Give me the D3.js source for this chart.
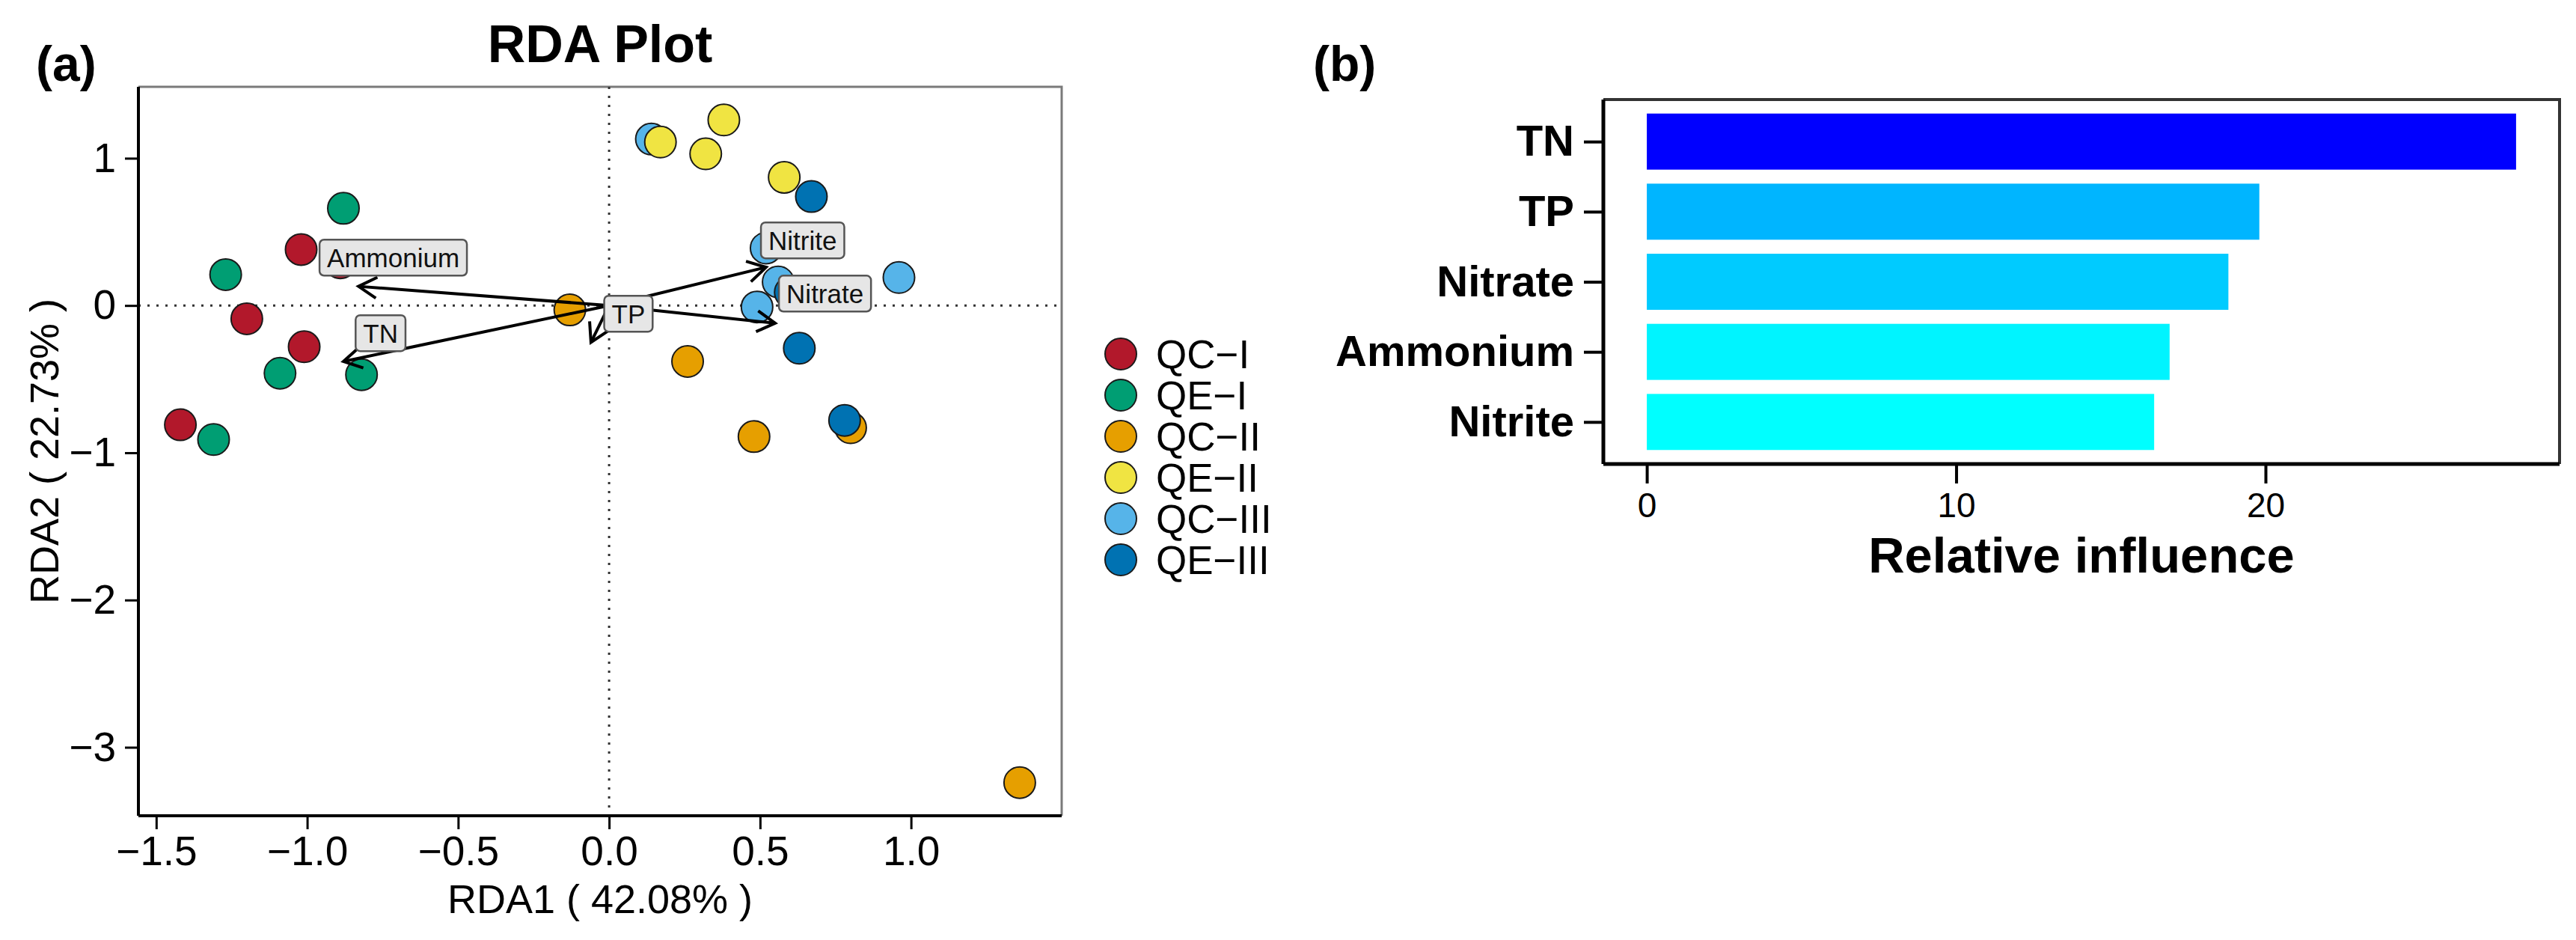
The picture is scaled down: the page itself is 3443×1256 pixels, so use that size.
<!DOCTYPE html>
<html>
<head>
<meta charset="utf-8">
<script src="https://d3js.org/d3.v7.min.js"></script>
<style>
  body { margin: 0; background: #fff; }
  svg text { font-family: "Liberation Sans", Arial, Helvetica, sans-serif; }
</style>
</head>
<body>
<svg id="chart"></svg>
<script>
// ---- data: RDA sample scores (drawing order: QC first, then QE) ----
const groups = ["QC−I", "QE−I", "QC−II", "QE−II", "QC−III", "QE−III"]
const groupColors = ["#B2182B", "#009E73", "#E69F00", "#F0E442", "#56B4E9", "#0072B2"]

const sampleGroup = [
  "QC−I", "QC−I", "QC−I", "QC−I", "QC−I",
  "QC−II", "QC−II", "QC−II", "QC−II", "QC−II",
  "QC−III", "QC−III", "QC−III", "QC−III", "QC−III",
  "QE−I", "QE−I", "QE−I", "QE−I", "QE−I",
  "QE−II", "QE−II", "QE−II", "QE−II", "QE−II",
  "QE−III", "QE−III", "QE−III", "QE−III"
]
const sampleRDA1 = [
  -1.02, -0.89, -1.20, -1.01, -1.42,
  -0.13, 0.26, 0.48, 0.80, 1.36,
  0.14, 0.52, 0.56, 0.49, 0.96,
  -0.88, -1.27, -1.09, -0.82, -1.31,
  0.17, 0.32, 0.38, 0.58, 0.67,
  0.67, 0.63, 0.78, 0.60
]
const sampleRDA2 = [
  0.38, 0.29, -0.09, -0.28, -0.81,
  -0.03, -0.38, -0.89, -0.83, -3.24,
  1.13, 0.39, 0.16, -0.01, 0.19,
  0.66, 0.21, -0.46, -0.47, -0.91,
  1.11, 1.03, 1.26, 0.87, 0.44,
  0.74, -0.29, -0.78, 0.09
]

// environmental arrows
const envVars = ["Ammonium", "TN", "TP", "Nitrite", "Nitrate"]
const arrowRDA1 = [-0.83, -0.88, -0.06, 0.52, 0.55]
const arrowRDA2 = [0.13, -0.38, -0.25, 0.26, -0.12]
const labelRDA1 = [-0.715, -0.757, 0.064, 0.641, 0.715]
const labelRDA2 = [0.325, -0.188, -0.056, 0.442, 0.081]

const rda1Ticks = [-1.5, -1.0, -0.5, 0.0, 0.5, 1.0]
const rda2Ticks = [-3, -2, -1, 0, 1]

// ---- data: relative influence ----
const influenceVars = ["TN", "TP", "Nitrate", "Ammonium", "Nitrite"]
const influence = [28.1, 19.8, 18.8, 16.9, 16.4]
const influenceTicks = [0, 10, 20]

// ---- setup ----
const W = 3443, H = 1256
const svg = d3.select("#chart").attr("width", W).attr("height", H)
svg.append("rect").attr("width", W).attr("height", H).attr("fill", "#fff")

function expand(min, max) {
  const p = (max - min) * 0.05
  return [min - p, max + p]
}

// ================= Panel (a) =================
const A = {left: 185, right: 1419, top: 116, bottom: 1090}
const x = d3.scaleLinear().domain(expand(d3.min(sampleRDA1), d3.max(sampleRDA1))).range([A.left, A.right])
const y = d3.scaleLinear().domain(expand(d3.min(sampleRDA2), d3.max(sampleRDA2))).range([A.bottom, A.top])
const color = d3.scaleOrdinal().domain(groups).range(groupColors)

const ga = svg.append("g")

// border (top/right grey)
ga.append("path")
  .attr("d", `M${A.left},${A.top}H${A.right}V${A.bottom}`)
  .attr("fill", "none").attr("stroke", "#7a7a7a").attr("stroke-width", 3)

// dotted zero lines
ga.append("line")
  .attr("x1", A.left).attr("x2", A.right).attr("y1", y(0)).attr("y2", y(0))
  .attr("stroke", "#333").attr("stroke-width", 3).attr("stroke-dasharray", "3,9")
ga.append("line")
  .attr("x1", x(0)).attr("x2", x(0)).attr("y1", A.top).attr("y2", A.bottom)
  .attr("stroke", "#333").attr("stroke-width", 3).attr("stroke-dasharray", "3,9")

// axes
const xAxisA = ga.append("g")
  .attr("transform", `translate(0,${A.bottom})`)
  .call(d3.axisBottom(x).tickValues(rda1Ticks).tickFormat(d3.format(".1f")).tickSize(18).tickPadding(9))
const yAxisA = ga.append("g")
  .attr("transform", `translate(${A.left},0)`)
  .call(d3.axisLeft(y).tickValues(rda2Ticks).tickFormat(d3.format("d")).tickSize(18).tickPadding(12))
;[xAxisA, yAxisA].forEach(ax => {
  ax.select(".domain").attr("stroke", "#000").attr("stroke-width", 4)
  ax.selectAll(".tick line").attr("stroke", "#000").attr("stroke-width", 3)
  ax.selectAll(".tick text").attr("fill", "#000").style("font-size", "55px")
})
// make domain lines span the full panel
xAxisA.select(".domain").attr("d", `M${A.left},0H${A.right}`)
yAxisA.select(".domain").attr("d", `M0,${A.top}V${A.bottom}`)

// points
ga.append("g").selectAll("circle")
  .data(sampleGroup.map((g, i) => ({g: g, a: sampleRDA1[i], b: sampleRDA2[i]})))
  .join("circle")
  .attr("cx", d => x(d.a))
  .attr("cy", d => y(d.b))
  .attr("r", 21)
  .attr("fill", d => color(d.g))
  .attr("stroke", "#1a1a1a")
  .attr("stroke-width", 2)

// arrows
const headLen = 28, headAng = Math.PI / 6
envVars.forEach((v, i) => {
  const x0 = x(0), y0 = y(0), x1 = x(arrowRDA1[i]), y1 = y(arrowRDA2[i])
  const ang = Math.atan2(y1 - y0, x1 - x0)
  ga.append("line")
    .attr("x1", x0).attr("y1", y0).attr("x2", x1).attr("y2", y1)
    .attr("stroke", "#000").attr("stroke-width", 4)
  const hx1 = x1 - headLen * Math.cos(ang - headAng), hy1 = y1 - headLen * Math.sin(ang - headAng)
  const hx2 = x1 - headLen * Math.cos(ang + headAng), hy2 = y1 - headLen * Math.sin(ang + headAng)
  ga.append("path")
    .attr("d", `M${hx1},${hy1}L${x1},${y1}L${hx2},${hy2}`)
    .attr("fill", "none").attr("stroke", "#000").attr("stroke-width", 4)
    .attr("stroke-linejoin", "miter")
})

// labels
envVars.forEach((v, i) => {
  const lg = ga.append("g").attr("transform", `translate(${x(labelRDA1[i])},${y(labelRDA2[i])})`)
  const rect = lg.append("rect")
  const t = lg.append("text")
    .attr("text-anchor", "middle").attr("dominant-baseline", "central")
    .style("font-size", "35px").attr("fill", "#111").text(v)
  const w = t.node().getComputedTextLength() + 20
  rect.attr("x", -w / 2).attr("y", -24).attr("width", w).attr("height", 48)
    .attr("rx", 6).attr("fill", "#e6e6e6").attr("stroke", "#555").attr("stroke-width", 2.5)
})

// titles
svg.append("text").attr("x", (A.left + A.right) / 2).attr("y", 83)
  .attr("text-anchor", "middle").style("font-size", "70px").style("font-weight", "bold").text("RDA Plot")
svg.append("text").attr("x", 48).attr("y", 108)
  .style("font-size", "66px").style("font-weight", "bold").text("(a)")
svg.append("text").attr("x", (A.left + A.right) / 2).attr("y", 1220)
  .attr("text-anchor", "middle").style("font-size", "54px").text("RDA1 ( 42.08% )")
svg.append("text")
  .attr("transform", `translate(78,${(A.top + A.bottom) / 2}) rotate(-90)`)
  .attr("text-anchor", "middle").style("font-size", "54px").text("RDA2 ( 22.73% )")

// legend
const leg = svg.append("g").attr("transform", "translate(1498,473)")
groups.forEach((g, i) => {
  leg.append("circle").attr("cx", 0).attr("cy", i * 55).attr("r", 21)
    .attr("fill", groupColors[i]).attr("stroke", "#1a1a1a").attr("stroke-width", 2)
  leg.append("text").attr("x", 47).attr("y", i * 55).attr("dominant-baseline", "central")
    .style("font-size", "53px").text(g)
})

// ================= Panel (b) =================
const B = {left: 2143, right: 3421, top: 133, bottom: 620}
const maxInf = d3.max(influence)
const xb = d3.scaleLinear().domain([-0.05 * maxInf, 1.05 * maxInf]).range([B.left, B.right])
const yb = d3.scalePoint().domain(influenceVars).range([B.top, B.bottom]).padding(0.6)
const fillB = d3.scaleLinear().domain([d3.min(influence), maxInf]).range(["#00FFFF", "#0000FF"]).interpolate(d3.interpolateRgb)
const barH = yb.step() * 0.8

const gb = svg.append("g")
gb.append("path")
  .attr("d", `M${B.left},${B.top}H${B.right}V${B.bottom}`)
  .attr("fill", "none").attr("stroke", "#333").attr("stroke-width", 4)

gb.append("g").selectAll("rect")
  .data(influenceVars.map((v, i) => ({v: v, val: influence[i]})))
  .join("rect")
  .attr("x", xb(0))
  .attr("y", d => yb(d.v) - barH / 2)
  .attr("width", d => xb(d.val) - xb(0))
  .attr("height", barH)
  .attr("fill", d => fillB(d.val))

const xAxisB = gb.append("g").attr("transform", `translate(0,${B.bottom})`)
  .call(d3.axisBottom(xb).tickValues(influenceTicks).tickSize(26).tickPadding(12))
const yAxisB = gb.append("g").attr("transform", `translate(${B.left},0)`)
  .call(d3.axisLeft(yb).tickSize(26).tickPadding(13))
xAxisB.select(".domain").attr("d", `M${B.left},0H${B.right}`)
yAxisB.select(".domain").attr("d", `M0,${B.top}V${B.bottom}`)
;[xAxisB, yAxisB].forEach(ax => {
  ax.select(".domain").attr("stroke", "#000").attr("stroke-width", 5)
  ax.selectAll(".tick line").attr("stroke", "#000").attr("stroke-width", 4)
  ax.selectAll(".tick text").attr("fill", "#000")
})
xAxisB.selectAll(".tick text").style("font-size", "46px")
yAxisB.selectAll(".tick text").style("font-size", "58px").style("font-weight", "bold")

svg.append("text").attr("x", (B.left + B.right) / 2).attr("y", 765)
  .attr("text-anchor", "middle").style("font-size", "67px").style("font-weight", "bold").text("Relative influence")
svg.append("text").attr("x", 1755).attr("y", 108)
  .style("font-size", "66px").style("font-weight", "bold").text("(b)")
</script>
</body>
</html>
